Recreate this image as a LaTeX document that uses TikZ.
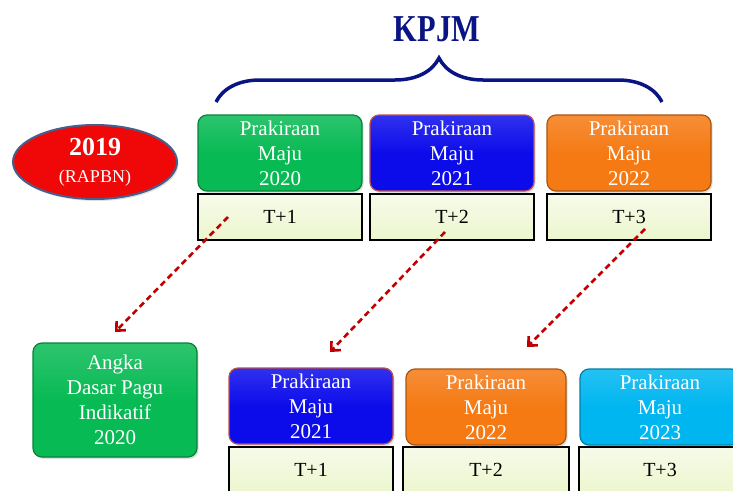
\documentclass[tikz,border=0pt]{standalone}
\usepackage{fontspec}
\setmainfont{Liberation Serif}
\usepackage{tikz}
\usetikzlibrary{arrows.meta,shapes.geometric,shadows,decorations.pathreplacing}
\definecolor{kgreen}{RGB}{8,186,84}
\definecolor{kblue}{RGB}{12,12,235}
\definecolor{korange}{RGB}{245,122,20}
\definecolor{kcyan}{RGB}{0,182,240}
\definecolor{kred}{RGB}{240,8,8}
\definecolor{knavy}{RGB}{10,20,130}
\definecolor{karrow}{RGB}{192,0,0}
\definecolor{kedge}{RGB}{70,95,140}
\definecolor{kpink}{RGB}{192,80,77}
\definecolor{tfill}{RGB}{236,246,206}
\newcommand{\prmaju}[1]{Prakiraan\\Maju\\#1}

\tikzset{
  pmbox/.style={rounded corners=9pt, draw=#1!70!black, line width=1.2pt,
    top color=#1!85!white, bottom color=#1, middle color=#1,
    text=white, align=center, inner sep=0pt,
    minimum width=164pt, minimum height=76pt,
    font=\fontsize{21}{25}\selectfont,
    drop shadow={opacity=0.25, shadow xshift=1.5pt, shadow yshift=-2pt}},
  tbox/.style={draw=black, line width=1.2pt, top color=white!55!tfill,
    bottom color=tfill, inner sep=0pt,
    minimum width=164pt, minimum height=46pt,
    font=\fontsize{20}{22}\selectfont},
  dasharrow/.style={karrow, line width=2.6pt, dash pattern=on 6pt off 4pt,
    -{Straight Barb[length=7pt,width=13pt]}}
}

\begin{document}
\begin{tikzpicture}[x=1pt,y=-1pt]
  \useasboundingbox (0,0) rectangle (733,490);

  % title and brace
  \node (kpjm) at (437,29) [text=knavy]
    {\scalebox{0.8}[1]{\fontsize{38}{40}\bfseries\selectfont KPJM}};
  \draw[knavy, line width=3.5pt, decorate, decoration={brace,amplitude=44pt}]
    (216,102) -- (662,102);

  % current year
  \node (rapbn) at (95,162) [ellipse, draw=kedge, line width=2pt,
    fill=kred, minimum width=164pt, minimum height=74pt, inner sep=0pt,
    text=white, align=center, font=\fontsize{18}{27}\selectfont,
    drop shadow={opacity=0.25, shadow xshift=1.5pt, shadow yshift=-2pt}]
    {{\fontsize{26}{27}\bfseries\selectfont 2019}\\(RAPBN)};

  % top row
  \node (pa) at (280,153) [pmbox=kgreen] {\prmaju{2020}};
  \node (pb) at (452,153) [pmbox=kblue, draw=kpink] {\prmaju{2021}};
  \node (pc) at (629,153) [pmbox=korange] {\prmaju{2022}};
  \node (ta) at (280,217) [tbox] {T+1};
  \node (tb) at (452,217) [tbox] {T+2};
  \node (tc) at (629,217) [tbox] {T+3};

  % bottom row
  \node (pagu) at (115,400) [pmbox=kgreen, minimum height=114pt]
    {Angka\\Dasar Pagu\\Indikatif\\2020};
  \node (qa) at (311,406) [pmbox=kblue, draw=kpink] {\prmaju{2021}};
  \node (qb) at (486,407) [pmbox=korange, minimum width=160pt] {\prmaju{2022}};
  \node (qc) at (660,407) [pmbox=kcyan, minimum width=160pt] {\prmaju{2023}};
  \node (ua) at (311,470) [tbox] {T+1};
  \node (ub) at (486,470) [tbox, minimum width=166pt] {T+2};
  \node (uc) at (660,470) [tbox, minimum width=162pt] {T+3};

  % shift arrows
  \coordinate (sa) at (228,217);
  \coordinate (ea) at (115,332);
  \coordinate (sb) at (445,232);
  \coordinate (eb) at (330,352);
  \coordinate (sc) at (645,229);
  \coordinate (ec) at (527,347);
  \draw[dasharrow] (sa) -- (ea);
  \draw[dasharrow] (sb) -- (eb);
  \draw[dasharrow] (sc) -- (ec);
\end{tikzpicture}
\end{document}
